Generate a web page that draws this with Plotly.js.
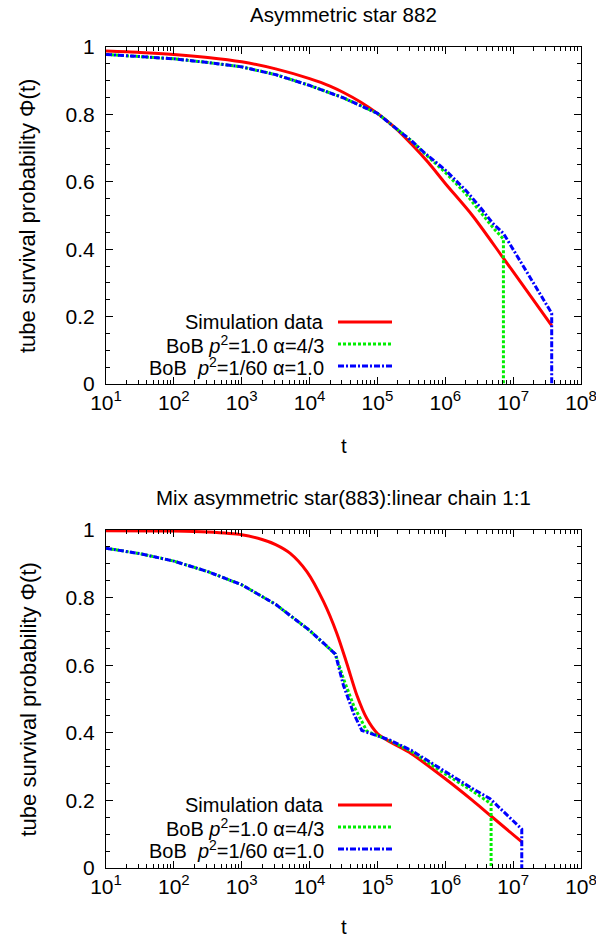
<!DOCTYPE html>
<html>
<head>
<meta charset="utf-8">
<script src="https://cdn.plot.ly/plotly-3.0.1.min.js"></script>
<style>
  html, body { margin: 0; padding: 0; background: #fff; }
  #chart { width: 596px; height: 940px; }
</style>
</head>
<body>
<div id="chart"></div>
<script>
// ---------- Data: Asymmetric star 882 (top panel) ----------
const t882_sim   = [10, 31.6, 100, 316, 1000, 3162, 1e4, 2e4, 3.16e4, 5.62e4, 1e5, 1.78e5, 3.16e5, 5.62e5, 1e6, 2.51e6, 6.92e6, 1.585e7, 3.70e7];
const phi882_sim = [0.988, 0.984, 0.978, 0.969, 0.956, 0.935, 0.906, 0.884, 0.865, 0.837, 0.803, 0.762, 0.712, 0.657, 0.595, 0.500, 0.378, 0.277, 0.173];

const t882_bob43   = [10, 31.6, 100, 316, 1000, 3162, 1e4, 3.16e4, 1e5, 3.16e5, 5.01e5, 1e6, 2.0e6, 3.16e6, 5.01e6, 7.19e6, 7.19e6];
const phi882_bob43 = [0.978, 0.972, 0.965, 0.954, 0.941, 0.918, 0.886, 0.849, 0.803, 0.722, 0.683, 0.628, 0.565, 0.515, 0.465, 0.430, 0];

const t882_bob1   = [10, 31.6, 100, 316, 1000, 3162, 1e4, 3.16e4, 1e5, 3.16e5, 5.01e5, 1e6, 2.0e6, 3.16e6, 5.01e6, 7.19e6, 1.585e7, 3.70e7, 3.70e7];
const phi882_bob1 = [0.978, 0.972, 0.965, 0.954, 0.941, 0.918, 0.886, 0.849, 0.803, 0.722, 0.685, 0.635, 0.575, 0.528, 0.477, 0.447, 0.334, 0.210, 0];

// ---------- Data: Mix asymmetric star(883):linear chain 1:1 (bottom panel) ----------
const tmix_sim   = [10, 100, 316, 1000, 1995, 3162, 5188, 9120, 16070, 25240, 35400, 49770, 69820, 1e5, 1.542e5, 3.162e5, 1e6, 2.512e6, 4.571e6, 1.34e7];
const phimix_sim = [0.998, 0.997, 0.994, 0.986, 0.972, 0.957, 0.931, 0.877, 0.788, 0.694, 0.605, 0.511, 0.442, 0.398, 0.373, 0.338, 0.264, 0.200, 0.156, 0.077];

const tmix_bob43   = [10, 31.6, 100, 316, 1000, 3162, 1e4, 2.4e4, 3.16e4, 4.47e4, 6.98e4, 1e5, 1.542e5, 3.162e5, 1e6, 2.512e6, 4.73e6, 4.73e6];
const phimix_bob43 = [0.946, 0.930, 0.908, 0.877, 0.838, 0.780, 0.703, 0.633, 0.560, 0.480, 0.405, 0.391, 0.376, 0.345, 0.278, 0.228, 0.190, 0];

const tmix_bob1   = [10, 31.6, 100, 316, 1000, 3162, 1e4, 2.4e4, 3.16e4, 4.47e4, 5.89e4, 1e5, 1.542e5, 3.162e5, 1e6, 2.512e6, 4.571e6, 1.34e7, 1.34e7];
const phimix_bob1 = [0.946, 0.930, 0.908, 0.877, 0.838, 0.780, 0.703, 0.633, 0.540, 0.457, 0.407, 0.391, 0.378, 0.348, 0.284, 0.235, 0.205, 0.115, 0];

// ---------- Ticks and text ----------
const xTickVals = [1e1, 1e2, 1e3, 1e4, 1e5, 1e6, 1e7, 1e8];
const xTickExp  = ["1", "2", "3", "4", "5", "6", "7", "8"];
const panelTitles = ["Asymmetric star 882", "Mix asymmetric star(883):linear chain 1:1"];
const seriesNames = ["Simulation data", "BoB <i>p</i><sup>2</sup>=1.0 α=4/3", "BoB  <i>p</i><sup>2</sup>=1/60 α=1.0"];
const xTitle = "t";
const yTitle = "tube survival probability Φ(t)";

// ---------- Styling ----------
const FONT = "'Liberation Sans', Arial, Helvetica, sans-serif";
const colors = ["#ff0000", "#00ee00", "#0000ff"];
const dashes = ["solid", "3px,2px", "6px,2px,2px,2px"];
const W = 596, H = 940, ML = 106, MR = 15, MT = 47, MB = 72;
const PW = W - ML - MR, PH = H - MT - MB;
const px2x = px => (px - ML) / PW;
const py2y = py => (H - MB - py) / PH;
const xTickText = xTickExp.map(e => "10<sup><span style='font-size:15px'>" + e + "</span></sup>");

function mk(x, y, i, ax) {
  return { x: x, y: y, type: "scatter", mode: "lines", xaxis: "x" + ax, yaxis: "y" + ax,
           line: { color: colors[i], width: 3, dash: dashes[i], shape: i === 0 ? "spline" : "linear", smoothing: 0.8 },
           showlegend: false, hoverinfo: "skip" };
}
const traces = [
  mk(t882_sim, phi882_sim, 0, ""), mk(t882_bob43, phi882_bob43, 1, ""), mk(t882_bob1, phi882_bob1, 2, ""),
  mk(tmix_sim, phimix_sim, 0, "2"), mk(tmix_bob43, phimix_bob43, 1, "2"), mk(tmix_bob1, phimix_bob1, 2, "2")
];

function xax(anchor) {
  return { type: "log", range: [1, 8], tickmode: "array", tickvals: xTickVals, ticktext: xTickText,
           anchor: anchor, ticklabeloverflow: "allow",
           ticks: "inside", ticklen: 7, tickwidth: 1, tickcolor: "#000",
           minor: { ticks: "inside", ticklen: 4, tickwidth: 1, tickcolor: "#000", dtick: "D1", showgrid: false },
           showline: true, linecolor: "#000", linewidth: 1, mirror: "allticks",
           showgrid: false, zeroline: false, tickfont: { family: FONT, size: 21, color: "#000" } };
}
function yax(anchor, domain) {
  return { range: [0, 1], dtick: 0.2, domain: domain, anchor: anchor,
           ticks: "inside", ticklen: 7, tickwidth: 1, tickcolor: "#000",
           minor: { ticks: "inside", ticklen: 4, tickwidth: 1, tickcolor: "#000", dtick: 0.05, showgrid: false },
           showline: true, linecolor: "#000", linewidth: 1, mirror: "allticks",
           showgrid: false, zeroline: false, ticklabelstandoff: 6,
           tickfont: { family: FONT, size: 21, color: "#000" } };
}

const topTop = 47, topBot = 384, botTop = 530, botBot = 868;
const layout = {
  width: W, height: H, margin: { l: ML, r: MR, t: MT, b: MB },
  paper_bgcolor: "#fff", plot_bgcolor: "#fff", font: { family: FONT, size: 20, color: "#000" },
  xaxis: xax("y"), yaxis: yax("x", [py2y(topBot), py2y(topTop)]),
  xaxis2: xax("y2"), yaxis2: yax("x2", [py2y(botBot), py2y(botTop)]),
  annotations: [], shapes: []
};

const panels = [
  { top: topTop, bot: topBot, titleY: 15, tBottom: 459, legY: [322, 344, 366] },
  { top: botTop, bot: botBot, titleY: 497, tBottom: 940, legY: [805, 827, 849] }
];
panels.forEach((p, k) => {
  const A = layout.annotations;
  A.push({ text: panelTitles[k], xref: "paper", yref: "paper", x: px2x(343.5), y: py2y(p.titleY),
           xanchor: "center", yanchor: "middle", showarrow: false, font: { family: FONT, size: 20.5 } });
  A.push({ text: xTitle, xref: "paper", yref: "paper", x: px2x(343.5), y: py2y(p.tBottom),
           xanchor: "center", yanchor: "bottom", showarrow: false, font: { family: FONT, size: 20.5 } });
  A.push({ text: yTitle, xref: "paper", yref: "paper", x: px2x(27.5), y: py2y((p.top + p.bot) / 2 + 1),
           xanchor: "center", yanchor: "middle", textangle: -90, showarrow: false, font: { family: FONT, size: 22 } });
  seriesNames.forEach((nm, i) => {
    A.push({ text: nm, xref: "paper", yref: "paper", x: px2x(326), y: py2y(p.legY[i]),
             xanchor: "right", yanchor: "middle", showarrow: false, font: { family: FONT, size: 20 } });
    layout.shapes.push({ type: "line", xref: "paper", yref: "paper",
             x0: px2x(338), x1: px2x(392), y0: py2y(p.legY[i]), y1: py2y(p.legY[i]),
             line: { color: colors[i], width: 3, dash: dashes[i] } });
  });
});

Plotly.newPlot("chart", traces, layout, { staticPlot: true, displayModeBar: false });
</script>
</body>
</html>
